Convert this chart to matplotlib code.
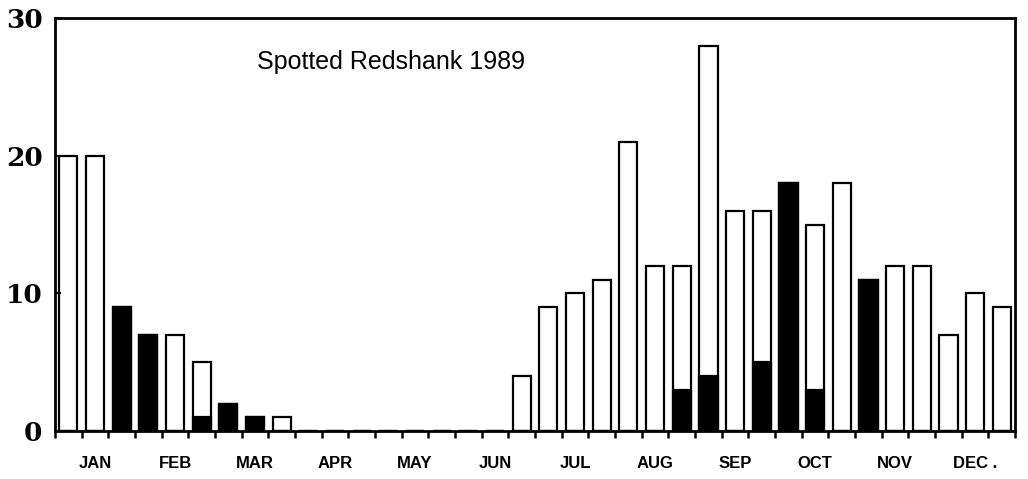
import numpy as np
import matplotlib
matplotlib.use("Agg")
import matplotlib.pyplot as plt

# three counts per month (10-day periods), Jan..Dec
months = ["JAN", "FEB", "MAR", "APR", "MAY", "JUN",
          "JUL", "AUG", "SEP", "OCT", "NOV", "DEC ."]
totals = [20, 20, 9, 7, 7, 5, 2, 1, 1,
          0, 0, 0, 0, 0, 0, 0, 0, 4,
          9, 10, 11, 21, 12, 12, 28, 16, 16,
          18, 15, 18, 11, 12, 12, 7, 10, 9]
black = [0, 0, 9, 7, 0, 1, 2, 1, 0,
         0, 0, 0, 0, 0, 0, 0, 0, 0,
         0, 0, 0, 0, 0, 3, 4, 0, 5,
         18, 3, 0, 11, 0, 0, 0, 0, 0]
yticks = [0, 10, 20, 30]

x = np.arange(len(totals)) + 0.5

fig = plt.figure(figsize=(10.28, 4.79), dpi=100)
ax = fig.add_axes([0.0535, 0.100, 0.934, 0.862])

ax.bar(x, totals, width=0.68, color="white", edgecolor="black", linewidth=1.6)
ax.bar(x, black, width=0.68, color="black", edgecolor="black", linewidth=1.6)

ax.set_xlim(0, len(totals))
ax.set_ylim(0, 30)

for s in ax.spines.values():
    s.set_linewidth(2)

ax.set_yticks(yticks)
ax.set_yticklabels([str(v) for v in yticks], fontfamily="DejaVu Serif",
                   fontweight="bold", fontsize=19)
ax.tick_params(axis="y", direction="in", length=4, width=1.5, pad=9)

# minor ticks at period boundaries, month labels at month centres
ax.set_xticks(np.arange(0, len(totals) + 1), minor=True)
ax.set_xticks(np.arange(len(months)) * 3 + 1.5)
ax.set_xticklabels(months, fontfamily="Liberation Sans", fontweight="bold",
                   fontsize=12)
ax.tick_params(axis="x", which="major", length=0, pad=18)
ax.tick_params(axis="x", which="minor", direction="out", length=5, width=1.8)

ax.text(0.21, 0.895, "Spotted Redshank 1989", transform=ax.transAxes,
        fontfamily="Liberation Sans", fontsize=18, va="center", ha="left")

fig.savefig("out.png", dpi=100)
